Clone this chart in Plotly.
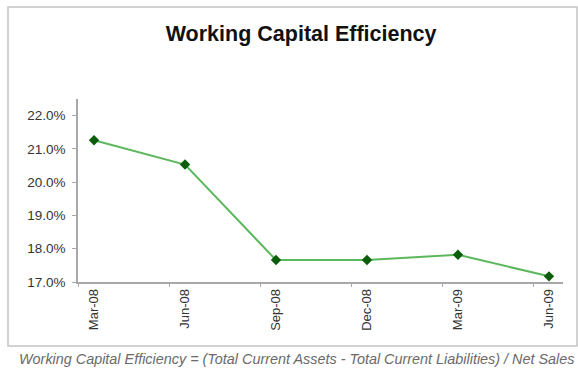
import plotly.graph_objects as go

quarters = ["Mar-08", "Jun-08", "Sep-08", "Dec-08", "Mar-09", "Jun-09"]
efficiency = [0.2126, 0.2053, 0.1766, 0.1766, 0.1782, 0.1717]
y_ticks = [0.17, 0.18, 0.19, 0.20, 0.21, 0.22]

title_text = "Working Capital Efficiency"
footnote_text = ("Working Capital Efficiency = (Total Current Assets - "
                 "Total Current Liabilities) / Net Sales")

FONT = "Liberation Sans, Arial, sans-serif"
x_pos = list(range(len(quarters)))
tick_offset = 0.17
x_range = [-0.176, len(quarters) - 1 + 0.154]

fig = go.Figure()
fig.add_trace(go.Scatter(
    x=x_pos, y=efficiency, mode="lines+markers",
    line=dict(color="#5cb85c", width=2),
    marker=dict(symbol="diamond", size=8, color="#0b5d0b"),
    showlegend=False, hoverinfo="skip",
))
# invisible trace for tick-mark axis
fig.add_trace(go.Scatter(
    x=[x_range[0]], y=[efficiency[0]], xaxis="x2", mode="markers",
    marker=dict(opacity=0), showlegend=False, hoverinfo="skip",
))

fig.update_layout(
    width=578, height=376,
    margin=dict(l=78, r=15, t=99, b=94),
    paper_bgcolor="white", plot_bgcolor="white",
    font=dict(family=FONT, color="#333333"),
    title=dict(text="<b>" + title_text + "</b>", x=0.521, xanchor="center",
               y=1 - 33 / 376, yanchor="middle",
               font=dict(size=21.5, color="#111111", family=FONT)),
    xaxis=dict(
        range=x_range, tickmode="array", tickvals=x_pos, ticktext=quarters,
        tickangle=-90, ticks="", showgrid=False, zeroline=False,
        showline=True, linecolor="#a8a8a8", linewidth=1.5,
        tickfont=dict(size=13, color="#333333"),
    ),
    xaxis2=dict(
        range=x_range, overlaying="x", side="bottom", tickmode="array",
        tickvals=[p - tick_offset for p in x_pos], ticks="outside",
        ticklen=4, tickcolor="#a8a8a8", tickwidth=1.2,
        showticklabels=False, showgrid=False, zeroline=False, showline=False,
    ),
    yaxis=dict(
        range=[0.17, 0.225], tickmode="array", tickvals=y_ticks,
        tickformat=".1%", ticks="outside", ticklen=4, tickcolor="#a8a8a8",
        showgrid=False, zeroline=False, showline=True,
        linecolor="#a8a8a8", linewidth=1.5,
        tickfont=dict(size=13.5, color="#333333"), ticklabelstandoff=4,
    ),
    shapes=[dict(
        type="rect", xref="paper", yref="paper",
        x0=(8 - 78) / 485, x1=(577 - 78) / 485,
        y0=(282 - 346) / 183, y1=(282 - 7) / 183,
        line=dict(color="#c4c4c4", width=1.5), layer="below",
    )],
    annotations=[dict(
        text="<i>" + footnote_text + "</i>", xref="paper", yref="paper",
        x=(576 - 78) / 485, y=(282 - 359) / 183, xanchor="right",
        yanchor="middle", showarrow=False,
        font=dict(size=14.4, color="#6a6a6a", family=FONT),
    )],
)

fig.write_html("out.html")
